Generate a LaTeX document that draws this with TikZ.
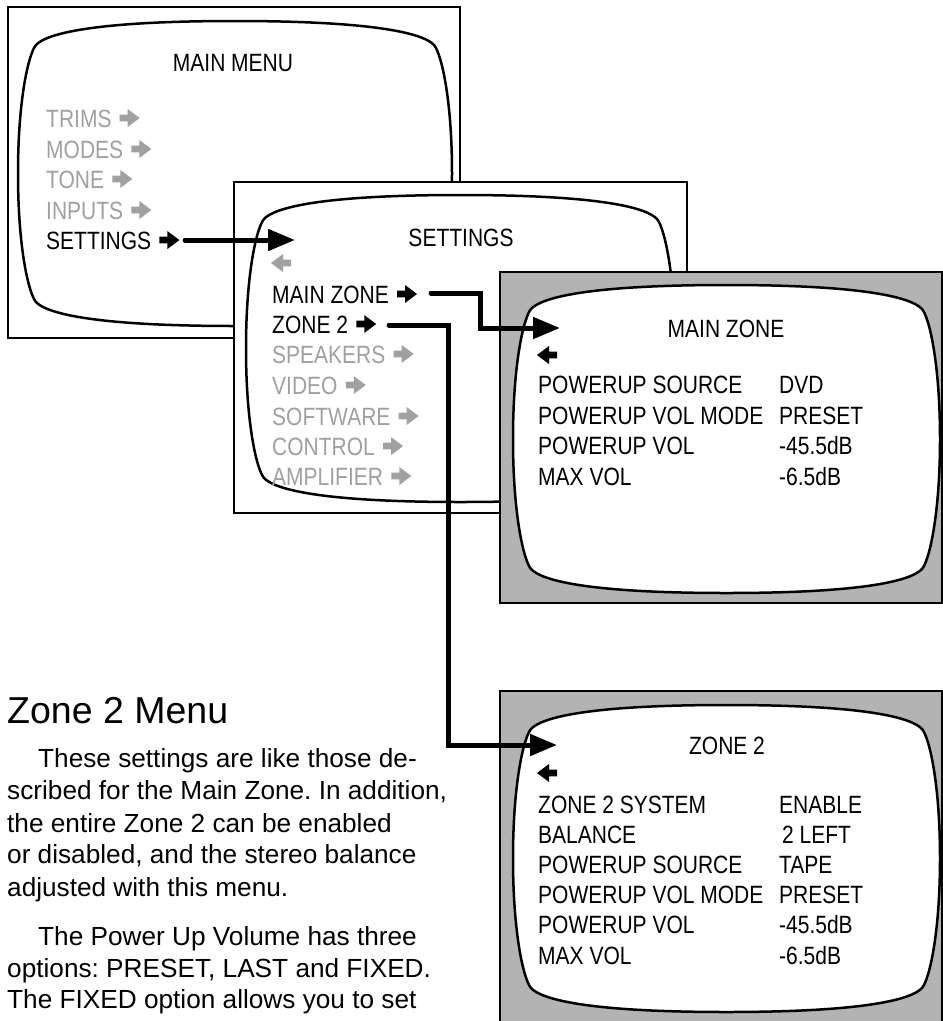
\documentclass[tikz,border=0pt]{standalone}
\usepackage{fontspec}
\setmainfont{Liberation Sans}
\newfontfamily\menufont[FakeStretch=0.84]{Liberation Sans}
\usetikzlibrary{arrows.meta,calc}
\definecolor{txtgray}{RGB}{160,160,160}
\definecolor{fillgray}{RGB}{179,179,179}
\frenchspacing
\tikzset{
  frame/.style={draw=black,line width=2.2pt},
  screen/.style={draw=black,line width=2.5pt,fill=white},
  item/.style={font=\menufont\fontsize{25}{25}\selectfont,inner sep=0pt,anchor=base west},
  title/.style={font=\menufont\fontsize{25}{25}\selectfont,inner sep=0pt,anchor=base},
  dim/.style={text=txtgray},
  body/.style={font=\fontsize{26.2}{32}\selectfont,inner sep=0pt,anchor=base west},
  link/.style={line width=5pt,line cap=round,-{Triangle[length=27pt,width=21pt]}},
  rarr/.pic={\fill (0,-3.3) -- (8,-3.3) -- (8,-9) -- (20,0) -- (8,9) -- (8,3.3) -- (0,3.3) -- cycle;},
  larr/.pic={\fill (0,-3.3) -- (-8,-3.3) -- (-8,-9) -- (-20,0) -- (-8,9) -- (-8,3.3) -- (0,3.3) -- cycle;},
}
\newcommand\tvscreen[5][]{%
 \pgfmathsetmacro\sL{#2}\pgfmathsetmacro\sT{#3}\pgfmathsetmacro\sR{#4}\pgfmathsetmacro\sB{#5}%
 \pgfmathsetmacro\sCX{(\sL+\sR)/2}\pgfmathsetmacro\sCY{(\sT+\sB)/2}%
 \pgfmathsetmacro\sW{\sR-\sL}\pgfmathsetmacro\sH{\sB-\sT}%
 \path[screen,#1] (\sCX,\sT)
 .. controls ({\sL+0.17*\sW},\sT) and ({\sL+28},{\sT+13}) .. ({\sL+18},{\sT+24})
 .. controls ({\sL+11},{\sT+32}) and (\sL,{\sT+0.25*\sH}) .. (\sL,\sCY)
 .. controls (\sL,{\sB-0.25*\sH}) and ({\sL+11},{\sB-32}) .. ({\sL+18},{\sB-24})
 .. controls ({\sL+28},{\sB-13}) and ({\sL+0.17*\sW},\sB) .. (\sCX,\sB)
 .. controls ({\sR-0.17*\sW},\sB) and ({\sR-28},{\sB-13}) .. ({\sR-18},{\sB-24})
 .. controls ({\sR-11},{\sB-32}) and (\sR,{\sB-0.25*\sH}) .. (\sR,\sCY)
 .. controls (\sR,{\sT+0.25*\sH}) and ({\sR-11},{\sT+32}) .. ({\sR-18},{\sT+24})
 .. controls ({\sR-28},{\sT+13}) and ({\sR-0.17*\sW},\sT) .. (\sCX,\sT) -- cycle;%
}
\begin{document}
\begin{tikzpicture}[x=1pt,y=-1pt]
\useasboundingbox (0,0) rectangle (943,1021);
\clip (0,0) rectangle (943,1021);
\fill[white] (0,0) rectangle (943,1021);

% ---------- MAIN MENU ----------
\path[frame,fill=white] (8,7) rectangle (460,338);
\tvscreen{18}{21}{452}{326}
\node[title] (mmtitle) at (233,71) {MAIN MENU};
\node[item,dim] (trims) at (46,127) {TRIMS};
\node[item,dim] (modes) at (46,158) {MODES};
\node[item,dim] (tone) at (46,188) {TONE};
\node[item,dim] (inputs) at (46,219) {INPUTS};
\node[item] (settings) at (46,249) {SETTINGS};
\pic[txtgray] at ($(trims.base east)+(8,-9)$) {rarr};
\pic[txtgray] at ($(modes.base east)+(8,-9)$) {rarr};
\pic[txtgray] at ($(tone.base east)+(8,-9)$) {rarr};
\pic[txtgray] at ($(inputs.base east)+(8,-9)$) {rarr};
\pic[black] at ($(settings.base east)+(8,-9)$) {rarr};

% ---------- SETTINGS ----------
\path[frame,fill=white] (234,182) rectangle (687,513);
\tvscreen{246}{195}{675}{502}
\node[title] (sttitle) at (461,246) {SETTINGS};
\pic[txtgray] at (291,263) {larr};
\node[item] (mainzone) at (272,303) {MAIN ZONE};
\node[item] (zone2) at (272,333) {ZONE 2};
\node[item,dim] (speakers) at (272,363) {SPEAKERS};
\node[item,dim] (video) at (272,394) {VIDEO};
\node[item,dim] (software) at (272,425) {SOFTWARE};
\node[item,dim] (control) at (272,455) {CONTROL};
\node[item,dim] (amplifier) at (272,485) {AMPLIFIER};
\pic[black] at ($(mainzone.base east)+(8,-9)$) {rarr};
\pic[black] at ($(zone2.base east)+(8,-9)$) {rarr};
\pic[txtgray] at ($(speakers.base east)+(8,-9)$) {rarr};
\pic[txtgray] at ($(video.base east)+(8,-9)$) {rarr};
\pic[txtgray] at ($(software.base east)+(8,-9)$) {rarr};
\pic[txtgray] at ($(control.base east)+(8,-9)$) {rarr};
\pic[txtgray] at ($(amplifier.base east)+(8,-9)$) {rarr};

% ---------- MAIN ZONE ----------
\path[frame,fill=fillgray] (500,272) rectangle (942,603);
\tvscreen{513}{285}{940}{593}
\node[title] (mztitle) at (726,337) {MAIN ZONE};
\pic[black] at (557,355) {larr};
\node[item] (mz1) at (538,393) {POWERUP SOURCE};
\node[item] (mz2) at (538,424) {POWERUP VOL MODE};
\node[item] (mz3) at (538,454) {POWERUP VOL};
\node[item] (mz4) at (538,485) {MAX VOL};
\node[item] (mv1) at (779,393) {DVD};
\node[item] (mv2) at (779,424) {PRESET};
\node[item] (mv3) at (779,454) {-45.5dB};
\node[item] (mv4) at (779,485) {-6.5dB};

% ---------- ZONE 2 ----------
\path[frame,fill=fillgray] (500,691) rectangle (942,1040);
\tvscreen{513}{705}{940}{1012}
\node[title] (z2title) at (727,754) {ZONE 2};
\pic[black] at (557,773) {larr};
\node[item] (z1) at (538,813) {ZONE 2 SYSTEM};
\node[item] (z2) at (538,843) {BALANCE};
\node[item] (z3) at (538,873) {POWERUP SOURCE};
\node[item] (z4) at (538,903) {POWERUP VOL MODE};
\node[item] (z5) at (538,933) {POWERUP VOL};
\node[item] (z6) at (538,964) {MAX VOL};
\node[item] (v1) at (779,813) {ENABLE};
\node[item] (v2) at (782,843) {2 LEFT};
\node[item] (v3) at (779,873) {TAPE};
\node[item] (v4) at (779,903) {PRESET};
\node[item] (v5) at (779,933) {-45.5dB};
\node[item] (v6) at (779,964) {-6.5dB};

% ---------- connectors ----------
\coordinate (s1) at (185,240);
\coordinate (e1) at (295,240);
\coordinate (s2) at (431,293);
\coordinate (e2) at (560,328);
\coordinate (s3) at (389,325);
\coordinate (e3) at (557,745);
\draw[link] (s1) -- (e1);
\draw[link] (s2) -- (480,293) |- (e2);
\draw[link] (s3) -- (448,325) |- (e3);

% ---------- text ----------
\node[font=\fontsize{37.5}{40}\selectfont,inner sep=0pt,anchor=base west] (head) at (7,723) {Zone 2 Menu};
\node[body] (l1) at (38,767) {These settings are like those de-};
\node[body] (l2) at (7,799) {scribed for the Main Zone. In addition,};
\node[body] (l3) at (7,832) {the entire Zone 2 can be enabled};
\node[body] (l4) at (7,863) {or disabled, and the stereo balance};
\node[body] (l5) at (7,896) {adjusted with this menu.};
\node[body] (l6) at (38,945) {The Power Up Volume has three};
\node[body] (l7) at (7,977) {options: PRESET, LAST and FIXED.};
\node[body] (l8) at (7,1008) {The FIXED option allows you to set};
\end{tikzpicture}
\end{document}
